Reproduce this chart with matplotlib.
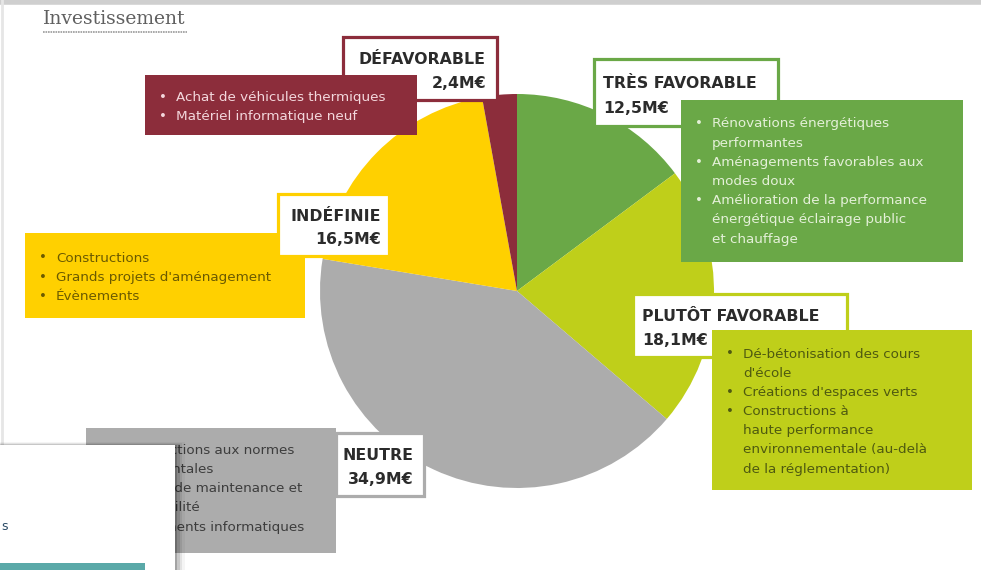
import matplotlib
matplotlib.use("Agg")
import matplotlib.pyplot as plt
from matplotlib.patches import Rectangle

# data
categories = ["TRÈS FAVORABLE", "PLUTÔT FAVORABLE", "NEUTRE", "INDÉFINIE", "DÉFAVORABLE"]
values = [12.5, 18.1, 34.9, 16.5, 2.4]
colors = ["#6aa847", "#bfcf1a", "#acacac", "#ffd000", "#8c2d3b"]
items = [
    ["Rénovations énergétiques\nperformantes",
     "Aménagements favorables aux\nmodes doux",
     "Amélioration de la performance\nénergétique éclairage public\net chauffage"],
    ["Dé-bétonisation des cours\nd'école",
     "Créations d'espaces verts",
     "Constructions à\nhaute performance\nenvironnementale (au-delà\nde la réglementation)"],
    ["Constructions aux normes\nréglementales",
     "Travaux de maintenance et\naccessibilité",
     "Équipements informatiques"],
    ["Constructions",
     "Grands projets d'aménagement",
     "Évènements"],
    ["Achat de véhicules thermiques",
     "Matériel informatique neuf"],
]
title = "Investissement"

W, H = 981, 570
fig = plt.figure(figsize=(W / 100, H / 100), dpi=100)
ax = fig.add_axes([0, 0, 1, 1])

# pie, pixel coords with y pointing down
ax.pie(values, colors=colors, center=(517, 291), radius=197,
       startangle=-90, counterclock=True,
       wedgeprops=dict(linewidth=0, zorder=1))
ax.set_xlim(0, W)
ax.set_ylim(H, 0)
ax.set_aspect("equal")
ax.axis("off")

lab_font = dict(family="DejaVu Sans", weight="bold", fontsize=11.3, color="#2b2b2b")
txt_font = dict(family="DejaVu Sans", fontsize=9.7)

# label boxes: x0, y0, x1, y1, text x, align
label_boxes = [
    (594, 59, 778, 126, 603, "left"),
    (633, 294, 847, 357, 642, "left"),
    (336, 433, 424, 496, 414, "right"),
    (278, 194, 389, 256, 381, "right"),
    (343, 37, 497, 100, 486, "right"),
]
# bullet boxes: x0, y0, x1, y1, first line y, text colour
item_boxes = [
    (681, 100, 963, 262, 124, "#e4f0d8"),
    (712, 330, 972, 490, 354, "#4f5a10"),
    (86, 428, 336, 553, 450, "#3d3d3d"),
    (25, 233, 305, 318, 258, "#6b5a00"),
    (145, 75, 417, 135, 97, "#f3d7dc"),
]
label_above = [False, False, True, True, False]
line_h = 19.2

for i, cat in enumerate(categories):
    lx0, ly0, lx1, ly1, tx, ha = label_boxes[i]
    bx0, by0, bx1, by1, ty, tc = item_boxes[i]
    zl = 6 if label_above[i] else 4
    zb = 4 if label_above[i] else 6
    ax.add_patch(Rectangle((lx0, ly0), lx1 - lx0, ly1 - ly0, facecolor="white",
                           edgecolor=colors[i], linewidth=2.3, zorder=zl))
    val = f"{values[i]:.1f}".replace(".", ",") + "M€"
    ax.text(tx, ly0 + (ly1 - ly0) * 0.36, cat, ha=ha, va="center", zorder=zl + 1, **lab_font)
    ax.text(tx, ly0 + (ly1 - ly0) * 0.74, val, ha=ha, va="center", zorder=zl + 1, **lab_font)

    ax.add_patch(Rectangle((bx0, by0), bx1 - bx0, by1 - by0, facecolor=colors[i],
                           edgecolor="none", zorder=zb))
    y = ty
    for it in items[i]:
        ax.text(bx0 + 18, y, "•", ha="center", va="center", color=tc, zorder=zb + 1, **txt_font)
        for ln in it.split("\n"):
            ax.text(bx0 + 31, y, ln, ha="left", va="center", color=tc, zorder=zb + 1, **txt_font)
            y += line_h

# title
ax.text(43, 19, title, family="DejaVu Serif", fontsize=13.5, color="#606060",
        ha="left", va="center")
ax.plot([43, 187], [32, 32], color="#9a9a9a", linewidth=1.2, linestyle=(0, (1, 0.5)))

# screenshot frame
ax.plot([0, W], [2, 2], color="#cfcfcf", linewidth=4, zorder=0, solid_capstyle="butt")
ax.plot([1.5, 1.5], [0, H], color="#e6e6e6", linewidth=2, zorder=0)

# overlapping window in the bottom-left corner
for k, a in enumerate([0.18, 0.12, 0.07, 0.04]):
    ax.add_patch(Rectangle((0, 445 - k), 175 + 2 + 2.5 * k, H, facecolor="black",
                           alpha=a, edgecolor="none", zorder=8))
ax.add_patch(Rectangle((0, 445), 175, H - 445, facecolor="white", edgecolor="none", zorder=9))
ax.add_patch(Rectangle((0, 563), 145, 8, facecolor="#5aa9a8", edgecolor="none", zorder=10))
ax.text(1, 526, "s", fontsize=9, color="#2a4a66", ha="left", va="center", zorder=10)

fig.savefig("out.png", dpi=100)
